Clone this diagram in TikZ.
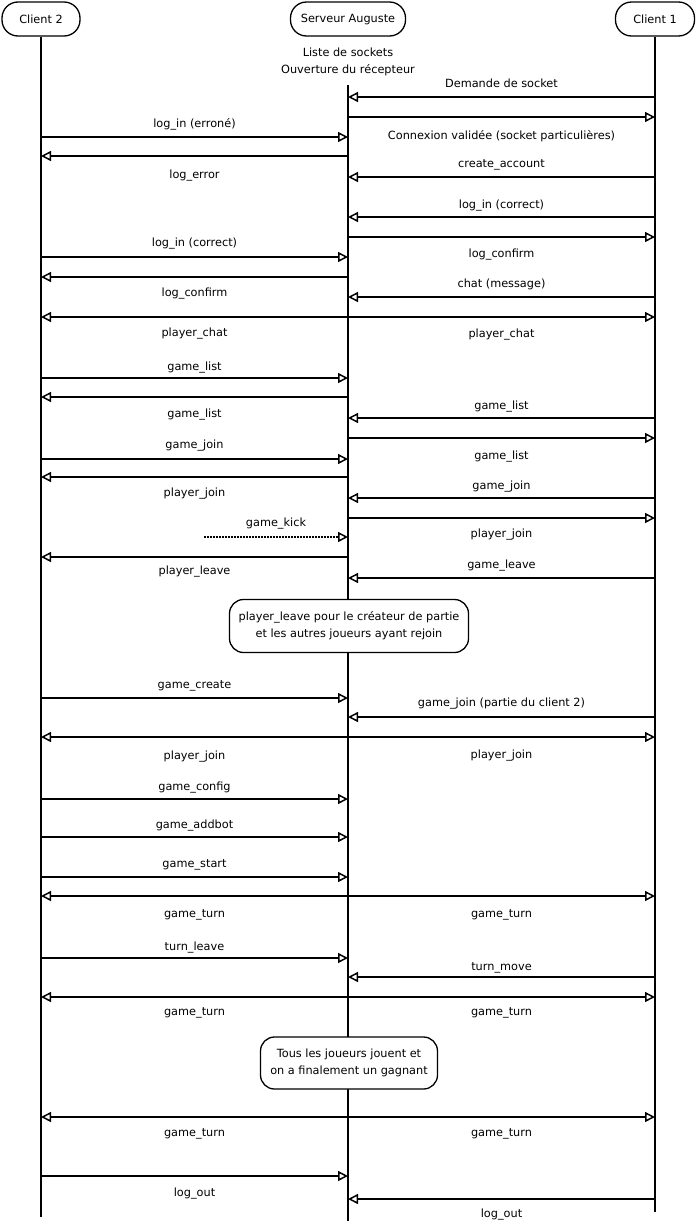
\documentclass[tikz,border=0pt]{standalone}
\usepackage{fontspec}
\setmainfont{DejaVu Sans}
\usetikzlibrary{arrows.meta}
\begin{document}
\begin{tikzpicture}[x=1pt,y=-1pt,line width=1.5pt,
        every node/.style={font=\fontsize{11.3}{17}\selectfont},
        actor/.style={draw,fill=white,rounded corners=16pt,minimum height=34pt,line width=1.3pt},
        msg/.style={-{Triangle[open,length=10pt,width=10pt]}},
        lbl/.style={inner sep=0pt,text height=8pt,text depth=2.5pt},
        note/.style={draw,fill=white,rounded corners=14pt,align=center,line width=1.3pt}]
    \useasboundingbox (0,0) rectangle (696,1221);
    \node[actor,minimum width=78pt] (c2) at (41,19) {Client 2};
    \node[actor,minimum width=115pt] (srv) at (348,19) {Serveur Auguste};
    \node[actor,minimum width=79pt] (c1) at (655,19) {Client 1};
    \node[align=center] (sock) at (348,62) {Liste de sockets\\Ouverture du récepteur};
    % lifelines
    \draw (c2.south) -- (c2 |- 0,1217);
    \draw (c1.south) -- (c1 |- 0,1212);
    \draw (srv |- 0,85) -- (srv |- 0,1221);
    % messages
    \foreach \y/\from/\to/\dy/\txt in {
        97/c1/srv/12/Demande de socket,
        117/srv/c1/-20/Connexion validée (socket particulières),
        137/c2/srv/12/log\_in (erroné),
        156/srv/c2/-20/log\_error,
        177/c1/srv/12/create\_account,
        217/c1/srv/11/log\_in (correct),
        237/srv/c1/-18/log\_confirm,
        257/c2/srv/13/log\_in (correct),
        277/srv/c2/-17/log\_confirm,
        297/c1/srv/12/chat (message),
        317/srv/c2/-17/player\_chat,
        317/srv/c1/-18/player\_chat,
        378/c2/srv/10/game\_list,
        397/srv/c2/-18/game\_list,
        418/c1/srv/11/game\_list,
        438/srv/c1/-19/game\_list,
        459/c2/srv/13/game\_join,
        477/srv/c2/-17/player\_join,
        498/c1/srv/11/game\_join,
        518/srv/c1/-17/player\_join,
        557/srv/c2/-15/player\_leave,
        578/c1/srv/12/game\_leave,
        698/c2/srv/12/game\_create,
        717/c1/srv/13/game\_join (partie du client 2),
        737/srv/c2/-20/player\_join,
        737/srv/c1/-19/player\_join,
        799/c2/srv/11/game\_config,
        837/c2/srv/11/game\_addbot,
        877/c2/srv/12/game\_start,
        896/srv/c2/-19/game\_turn,
        896/srv/c1/-19/game\_turn,
        958/c2/srv/10/turn\_leave,
        977/c1/srv/9/turn\_move,
        997/srv/c2/-16/game\_turn,
        997/srv/c1/-16/game\_turn,
        1117/srv/c2/-17/game\_turn,
        1117/srv/c1/-17/game\_turn,
        1176/c2/srv/-18/log\_out,
        1199/c1/srv/-16/log\_out}
    \draw[msg] (\from |- 0,\y) -- node[lbl,midway,yshift=\dy pt] {\txt} (\to |- 0,\y);
    \coordinate (kick) at (204,537);
    \draw[msg,dash pattern=on 1.5pt off 1.5pt] (kick) -- node[lbl,midway,yshift=13pt] {game\_kick} (srv |- kick);
    % notes
    \node[note,minimum width=239pt,minimum height=53pt] (leave) at (349,626)
        {player\_leave pour le créateur de partie\\et les autres joueurs ayant rejoin};
    \node[note,minimum width=177pt,minimum height=52pt] (win) at (349,1063)
        {Tous les joueurs jouent et\\on a finalement un gagnant};
\end{tikzpicture}
\end{document}
